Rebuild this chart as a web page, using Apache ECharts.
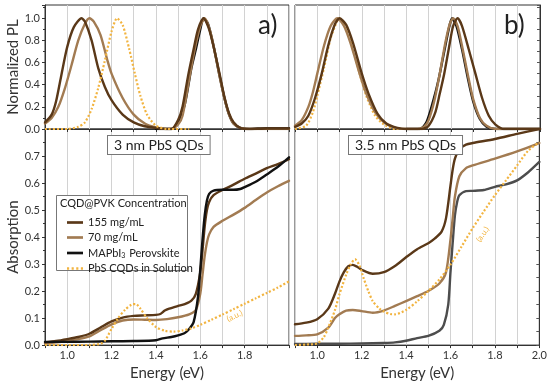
<!DOCTYPE html>
<html><head><meta charset="utf-8">
<script src="https://cdn.jsdelivr.net/npm/echarts/dist/echarts.min.js"></script>
<style>html,body{margin:0;padding:0;background:#fff}#c{width:550px;height:386px}</style>
</head><body><div id="c"></div>
<script>
// ---------- Panel a) top : normalized PL ----------
const aPL155_E = [0.9,0.93,0.95,0.975,1.0,1.03,1.065,1.08,1.11,1.14,1.17,1.2,1.25,1.3,1.35,1.4,1.45,1.47,1.5,1.52,1.545,1.57,1.59,1.615,1.64,1.665,1.69,1.71,1.73,1.75,1.78,1.82,1.9,2.0];
const aPL155_Y = [0.06,0.13,0.25,0.5,0.74,0.92,1.0,0.97,0.8,0.55,0.38,0.26,0.13,0.06,0.025,0.01,0.0,0.0,0.08,0.2,0.48,0.72,0.9,1.0,0.9,0.7,0.47,0.28,0.14,0.06,0.01,0.0,0.005,0.005];
const aPL70_E = [0.9,0.93,0.96,0.99,1.02,1.05,1.08,1.1,1.12,1.15,1.18,1.2,1.25,1.3,1.35,1.4,1.45,1.47,1.5,1.52,1.55,1.575,1.6,1.62,1.645,1.67,1.69,1.71,1.73,1.75,1.78,1.82,2.0];
const aPL70_Y = [0.05,0.1,0.2,0.37,0.58,0.8,0.95,1.0,0.97,0.85,0.63,0.5,0.28,0.13,0.05,0.015,0.0,0.0,0.04,0.12,0.45,0.72,0.93,1.0,0.88,0.65,0.45,0.27,0.13,0.05,0.01,0.0,0.0];
const aPLpvk_E = [1.4,1.47,1.5,1.53,1.56,1.58,1.6,1.615,1.635,1.66,1.685,1.71,1.73,1.75,1.78,1.82,1.9,2.0];
const aPLpvk_Y = [0.0,0.0,0.06,0.22,0.55,0.72,0.9,1.0,0.95,0.75,0.5,0.27,0.13,0.05,0.01,0.0,0.008,0.008];
const aPLsol_E = [0.9,1.0,1.05,1.08,1.11,1.14,1.17,1.2,1.225,1.25,1.28,1.305,1.33,1.36,1.4,1.45,1.55];
const aPLsol_Y = [0.0,0.0,0.02,0.06,0.18,0.37,0.62,0.88,1.0,0.94,0.72,0.5,0.3,0.13,0.03,0.0,0.0];

// ---------- Panel a) bottom : absorption ----------
const aAbs155_E = [0.9,0.95,1.0,1.05,1.1,1.15,1.2,1.25,1.3,1.35,1.4,1.42,1.44,1.46,1.5,1.53,1.56,1.58,1.6,1.61,1.62,1.63,1.64,1.66,1.7,1.75,1.8,1.85,1.9,1.95,2.0];
const aAbs155_Y = [0.01,0.015,0.022,0.03,0.042,0.065,0.088,0.102,0.108,0.11,0.112,0.115,0.128,0.135,0.145,0.152,0.165,0.19,0.27,0.35,0.44,0.5,0.53,0.555,0.574,0.594,0.616,0.635,0.655,0.67,0.688];
const aAbs70_E = [0.9,0.95,1.0,1.05,1.1,1.15,1.2,1.25,1.3,1.35,1.4,1.45,1.5,1.55,1.58,1.6,1.61,1.62,1.63,1.64,1.66,1.7,1.75,1.8,1.85,1.9,1.95,2.0];
const aAbs70_Y = [0.006,0.01,0.016,0.022,0.032,0.055,0.077,0.091,0.095,0.094,0.093,0.096,0.103,0.114,0.13,0.19,0.26,0.33,0.38,0.41,0.438,0.46,0.483,0.508,0.537,0.565,0.588,0.608];
const aAbsPvk_E = [0.9,1.0,1.1,1.2,1.3,1.4,1.43,1.47,1.5,1.53,1.55,1.57,1.59,1.6,1.61,1.62,1.63,1.64,1.66,1.7,1.75,1.78,1.8,1.85,1.9,1.95,2.0];
const aAbsPvk_Y = [0.012,0.012,0.013,0.014,0.015,0.018,0.025,0.03,0.036,0.045,0.06,0.085,0.18,0.28,0.39,0.48,0.535,0.56,0.572,0.575,0.575,0.578,0.585,0.605,0.632,0.66,0.695];
const aAbsSol_E = [0.9,1.0,1.1,1.15,1.17,1.2,1.23,1.26,1.29,1.31,1.33,1.36,1.4,1.44,1.48,1.52,1.56,1.6,1.65,1.7,1.75,1.8,1.85,1.9,1.95,2.0];
const aAbsSol_Y = [0.0,0.0,0.0,0.005,0.016,0.06,0.1,0.13,0.15,0.152,0.135,0.1,0.067,0.053,0.05,0.054,0.062,0.075,0.094,0.113,0.133,0.153,0.173,0.193,0.213,0.236];

// ---------- Panel b) top : normalized PL ----------
const bPL155_E = [0.9,0.93,0.96,0.99,1.02,1.05,1.08,1.1,1.13,1.16,1.2,1.23,1.27,1.31,1.36,1.4,1.47,1.5,1.53,1.55,1.57,1.59,1.61,1.63,1.65,1.68,1.71,1.74,1.77,1.8,1.84,1.9,2.0];
const bPL155_Y = [0.02,0.05,0.12,0.28,0.5,0.76,0.95,1.0,0.94,0.78,0.5,0.32,0.14,0.05,0.01,0.0,0.0,0.03,0.15,0.32,0.5,0.72,0.93,1.0,0.93,0.72,0.5,0.28,0.12,0.04,0.0,0.0,0.0];
const bPL70_E = [0.9,0.93,0.96,0.98,1.0,1.03,1.06,1.09,1.12,1.15,1.19,1.22,1.26,1.3,1.35,1.4,1.45,1.48,1.5,1.525,1.55,1.575,1.595,1.61,1.63,1.65,1.675,1.7,1.73,1.76,1.8,2.0];
const bPL70_Y = [0.03,0.08,0.2,0.33,0.5,0.75,0.93,1.0,0.93,0.77,0.5,0.32,0.15,0.06,0.01,0.0,0.0,0.02,0.08,0.25,0.5,0.78,0.95,1.0,0.93,0.75,0.5,0.27,0.1,0.03,0.0,0.0];
const bPLpvk_E = [1.4,1.46,1.49,1.52,1.545,1.57,1.59,1.605,1.625,1.65,1.675,1.7,1.73,1.76,1.8,2.0];
const bPLpvk_Y = [0.0,0.0,0.06,0.25,0.45,0.7,0.9,1.0,0.93,0.72,0.47,0.25,0.09,0.02,0.0,0.0];
const bPLsol_E = [0.9,0.95,0.98,1.0,1.03,1.06,1.09,1.1,1.12,1.15,1.19,1.22,1.26,1.3,1.35,1.4];
const bPLsol_Y = [0.0,0.03,0.15,0.3,0.55,0.82,0.98,1.0,0.96,0.8,0.5,0.3,0.12,0.04,0.0,0.0];

// ---------- Panel b) bottom : absorption ----------
const bAbs155_E = [0.9,0.95,1.0,1.05,1.08,1.1,1.12,1.14,1.16,1.18,1.2,1.25,1.3,1.35,1.4,1.45,1.5,1.53,1.56,1.58,1.6,1.61,1.62,1.64,1.67,1.7,1.8,1.9,2.0];
const bAbs155_Y = [0.077,0.083,0.096,0.135,0.19,0.235,0.27,0.292,0.297,0.29,0.279,0.264,0.27,0.293,0.325,0.355,0.377,0.395,0.42,0.47,0.59,0.65,0.69,0.725,0.742,0.748,0.763,0.782,0.8];
const bAbs70_E = [0.9,0.95,1.0,1.05,1.08,1.1,1.13,1.16,1.2,1.25,1.3,1.35,1.4,1.45,1.5,1.55,1.58,1.6,1.61,1.62,1.64,1.67,1.7,1.8,1.9,2.0];
const bAbs70_Y = [0.034,0.036,0.04,0.065,0.1,0.114,0.128,0.13,0.126,0.12,0.128,0.145,0.163,0.181,0.2,0.228,0.27,0.39,0.47,0.55,0.625,0.655,0.665,0.69,0.717,0.748];
const bAbsPvk_E = [0.9,1.0,1.1,1.2,1.3,1.35,1.4,1.45,1.5,1.55,1.57,1.59,1.6,1.61,1.62,1.63,1.64,1.67,1.7,1.75,1.8,1.85,1.9,1.95,2.0];
const bAbsPvk_Y = [0.004,0.005,0.005,0.006,0.008,0.01,0.016,0.026,0.034,0.053,0.075,0.15,0.27,0.38,0.48,0.53,0.555,0.57,0.571,0.574,0.586,0.595,0.61,0.64,0.678];
const bAbsSol_E = [0.9,0.95,1.0,1.03,1.05,1.08,1.1,1.13,1.15,1.17,1.19,1.21,1.23,1.25,1.28,1.3,1.33,1.35,1.4,1.45,1.5,1.55,1.6,1.65,1.7,1.75,1.8,1.85,1.9,1.95,2.0];
const bAbsSol_Y = [0.0,0.002,0.006,0.03,0.065,0.13,0.188,0.26,0.298,0.318,0.295,0.245,0.2,0.163,0.135,0.124,0.115,0.114,0.13,0.162,0.2,0.243,0.298,0.365,0.433,0.495,0.555,0.61,0.665,0.72,0.751];

// ---------- labels ----------
const seriesNames = ['155 mg/mL','70 mg/mL','MAPbI3 Perovskite','PbS CQDs in Solution'];
const legendTitle = 'CQD@PVK Concentration';
const panelTags = ['a)','b)'];
const panelTitles = ['3 nm PbS QDs','3.5 nm PbS QDs'];
const xName = 'Energy (eV)';
const yNameTop = 'Normalized PL';
const yNameBottom = 'Absorption';
const auLabel = '(a.u.)';

const FONT = 'Lato, "Open Sans", sans-serif';
const C155 = '#5a3818', C70 = '#a27b52', CPVK = '#111111', CPVK2 = '#4d4d4d', CSOL = '#f2b440';

const zip = (E, Y) => E.map((e, i) => [e, Y[i]]);

function line(name, E, Y, color, idx, dotted, z) {
  return {
    type: 'line', name, data: zip(E, Y), xAxisIndex: idx, yAxisIndex: idx,
    showSymbol: false, symbol: 'none', smooth: 0.25,
    lineStyle: { color, width: dotted ? 2.2 : 2.4, type: dotted ? [2, 2] : 'solid', cap: dotted ? 'butt' : 'round', join: 'round' },
    itemStyle: { color }, z: z || 2, animation: false
  };
}

function xAxis(idx, labels, rightEdge) {
  return {
    type: 'value', gridIndex: idx, min: 0.9, max: 2.0, interval: 0.1,
    name: labels ? xName : '', nameLocation: 'middle', nameGap: 16,
    nameTextStyle: { fontFamily: FONT, fontSize: 15, color: '#333' },
    axisLine: { show: true, onZero: false, lineStyle: { color: '#333', width: 1 } },
    axisTick: { show: true, inside: false, length: 3, lineStyle: { color: '#333' } },
    axisLabel: {
      show: labels, margin: 5, fontFamily: FONT, fontSize: 11, color: '#333',
      showMinLabel: true, showMaxLabel: true,
      formatter: v => { const r = Math.round(v * 10); return (r % 2 === 0 && r >= 10 && (r < 20 || rightEdge)) ? (r / 10).toFixed(1) : ''; }
    },
    splitLine: { show: true, lineStyle: { color: '#d2d2d2', width: 1 } }
  };
}

function yAxis(idx, opts) {
  return Object.assign({
    type: 'value', gridIndex: idx, min: 0,
    nameLocation: 'middle', nameGap: 24,
    nameTextStyle: { fontFamily: FONT, fontSize: 15, color: '#333' },
    axisLine: { show: true, lineStyle: { color: '#333', width: 1 } },
    splitLine: { show: false }
  }, opts);
}

const SOLID_ICON = 'path://M0,0h18v3h-18z';
const DOT_ICON = 'path://M0,0h2.4v3h-2.4zM5.2,0h2.4v3h-2.4zM10.4,0h2.4v3h-2.4zM15.6,0h2.4v3h-2.4z';

const chart = echarts.init(document.getElementById('c'), null, { renderer: 'canvas' });

const option = {
  animation: false,
  backgroundColor: '#fff',
  grid: [
    { left: 45, top: 5, width: 244, height: 124, show: true, borderColor: '#333', borderWidth: 1 },
    { left: 45, top: 129, width: 244, height: 219, show: true, borderColor: '#333', borderWidth: 1 },
    { left: 295, top: 5, width: 245, height: 124, show: true, borderColor: '#333', borderWidth: 1 },
    { left: 295, top: 129, width: 245, height: 219, show: true, borderColor: '#333', borderWidth: 1 }
  ],
  xAxis: [xAxis(0, false, false), xAxis(1, true, false), xAxis(2, false, true), xAxis(3, true, true)],
  yAxis: [
    yAxis(0, { max: 1.12, interval: 0.2, name: yNameTop,
      axisTick: { show: true, length: 3, lineStyle: { color: '#333' } },
      minorTick: { show: true, splitNumber: 2, length: 2, lineStyle: { color: '#333' } },
      axisLabel: { margin: 5, fontFamily: FONT, fontSize: 11, color: '#333', showMaxLabel: false, formatter: v => v > 1.05 ? '' : v.toFixed(1) } }),
    yAxis(1, { max: 0.8, interval: 0.1, name: yNameBottom,
      axisTick: { show: true, length: 3, lineStyle: { color: '#333' } },
      minorTick: { show: true, splitNumber: 2, length: 2, lineStyle: { color: '#333' } },
      axisLabel: { margin: 5, fontFamily: FONT, fontSize: 11, color: '#333', showMaxLabel: false, formatter: v => v > 0.75 ? '' : v.toFixed(1) } }),
    yAxis(2, { max: 1.12, interval: 0.1, position: 'right',
      axisTick: { show: true, inside: true, length: 3, lineStyle: { color: '#555' } },
      axisLabel: { show: false } }),
    yAxis(3, { max: 0.8, interval: 0.05, position: 'right',
      axisTick: { show: true, inside: true, length: 3, lineStyle: { color: '#555' } },
      axisLabel: { show: false } })
  ],
  legend: {
    left: 62, top: 212, orient: 'vertical', itemWidth: 16, itemHeight: 10, itemGap: 4,
    selectedMode: false, z: 6,
    data: [
      { name: seriesNames[0], icon: SOLID_ICON },
      { name: seriesNames[1], icon: SOLID_ICON },
      { name: seriesNames[2], icon: SOLID_ICON },
      { name: seriesNames[3], icon: DOT_ICON }
    ],
    textStyle: {
      fontFamily: FONT, fontSize: 11, color: '#222',
      rich: {
        n: { fontFamily: FONT, fontSize: 11, color: '#222', lineHeight: 12 },
        s: { fontFamily: FONT, fontSize: 7, color: '#222', lineHeight: 12, verticalAlign: 'bottom', padding: [5, 1, 0, 0] }
      }
    },
    formatter: n => n.indexOf('MAPbI3') === 0 ? '{n|MAPbI}{s|3}{n|' + n.slice(6) + '}' : n
  },
  series: [
    // panel a top
    line(seriesNames[2], aPLpvk_E, aPLpvk_Y, CPVK, 0, false, 2),
    line(seriesNames[1], aPL70_E, aPL70_Y, C70, 0, false, 3),
    line(seriesNames[0], aPL155_E, aPL155_Y, C155, 0, false, 4),
    line(seriesNames[3], aPLsol_E, aPLsol_Y, CSOL, 0, true, 5),
    // panel a bottom
    line(seriesNames[1], aAbs70_E, aAbs70_Y, C70, 1, false, 3),
    line(seriesNames[0], aAbs155_E, aAbs155_Y, C155, 1, false, 4),
    line(seriesNames[2], aAbsPvk_E, aAbsPvk_Y, CPVK, 1, false, 4),
    line(seriesNames[3], aAbsSol_E, aAbsSol_Y, CSOL, 1, true, 5),
    // panel b top
    line(seriesNames[2], bPLpvk_E, bPLpvk_Y, CPVK, 2, false, 2),
    line(seriesNames[3], bPLsol_E, bPLsol_Y, CSOL, 2, true, 3),
    line(seriesNames[1], bPL70_E, bPL70_Y, C70, 2, false, 4),
    line(seriesNames[0], bPL155_E, bPL155_Y, C155, 2, false, 4),
    // panel b bottom
    line(seriesNames[2], bAbsPvk_E, bAbsPvk_Y, CPVK2, 3, false, 3),
    line(seriesNames[1], bAbs70_E, bAbs70_Y, C70, 3, false, 3),
    line(seriesNames[0], bAbs155_E, bAbs155_Y, C155, 3, false, 4),
    line(seriesNames[3], bAbsSol_E, bAbsSol_Y, CSOL, 3, true, 5)
  ]
};
chart.setOption(option);

// annotations positioned through the axes
const pA = chart.convertToPixel({ gridIndex: 1 }, [1.755, 0.108]);
const pB = chart.convertToPixel({ gridIndex: 3 }, [1.745, 0.41]);
chart.setOption({
  graphic: [
    { type: 'text', left: 258, top: 13, z: 10, style: { text: panelTags[0], font: '26px ' + FONT, fill: '#222' } },
    { type: 'text', left: 504, top: 13, z: 10, style: { text: panelTags[1], font: '26px ' + FONT, fill: '#222' } },
    { type: 'text', left: 107, top: 135, z: 10, style: { text: panelTitles[0], font: '14px ' + FONT, fill: '#222', backgroundColor: '#fff', borderColor: '#777', borderWidth: 1, padding: [2, 6, 2, 6] } },
    { type: 'text', left: 348, top: 135, z: 10, style: { text: panelTitles[1], font: '14px ' + FONT, fill: '#222', backgroundColor: '#fff', borderColor: '#777', borderWidth: 1, padding: [2, 6, 2, 6] } },
    { type: 'rect', left: 56, top: 195, z: 5, shape: { width: 131, height: 75 }, style: { fill: '#fff', stroke: '#777', lineWidth: 1 } },
    { type: 'text', left: 60, top: 198, z: 7, style: { text: legendTitle, font: '11px ' + FONT, fill: '#222' } },
    { type: 'text', x: pA[0], y: pA[1], rotation: 25 * Math.PI / 180, z: 10, style: { text: auLabel, font: '8px ' + FONT, fill: CSOL, align: 'center', verticalAlign: 'middle' } },
    { type: 'text', x: pB[0], y: pB[1], rotation: 56 * Math.PI / 180, z: 10, style: { text: auLabel, font: '8px ' + FONT, fill: CSOL, align: 'center', verticalAlign: 'middle' } }
  ]
});
</script>
</body></html>
